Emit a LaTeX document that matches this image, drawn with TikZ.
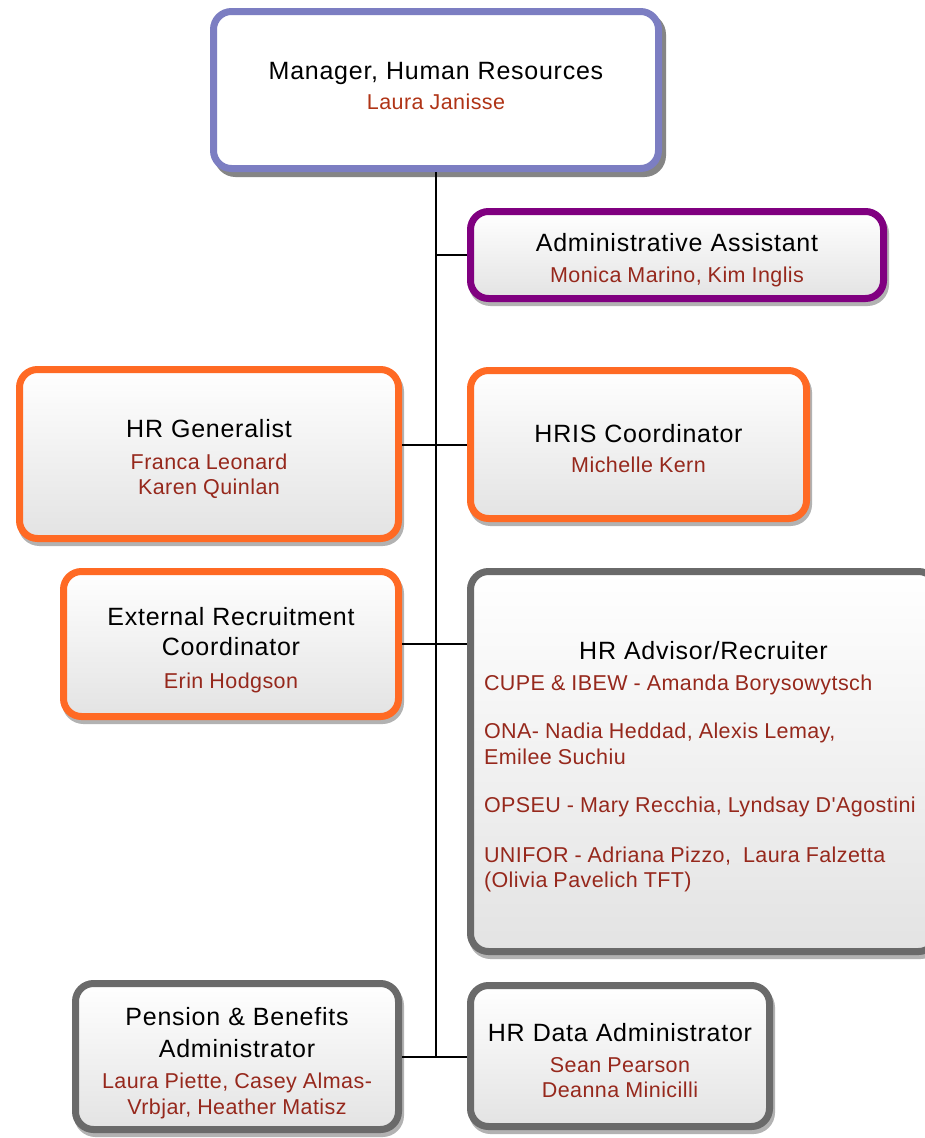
\documentclass[tikz,border=0pt]{standalone}
\usepackage{fontspec}
\setmainfont{Liberation Sans}
\newfontfamily\ttlfamily{Liberation Sans}[LetterSpace=3]
\newfontfamily\nmfamily{Liberation Sans}[LetterSpace=2]
\usetikzlibrary{shadows}
\definecolor{lav}{RGB}{124,126,194}
\definecolor{purp}{RGB}{128,0,128}
\definecolor{orng}{RGB}{255,106,36}
\definecolor{gry}{RGB}{106,106,106}
\definecolor{nred}{RGB}{150,40,28}
\definecolor{mred}{RGB}{176,52,22}
\newcommand\boxttl{\ttlfamily\fontsize{25}{31}\selectfont\spaceskip=8pt\relax\color{black}}
\newcommand\boxnm{\nmfamily\fontsize{21.5}{25.5}\selectfont\spaceskip=6pt\relax\color{nred}}
\newcommand\boxshift[1]{\par\vspace{#1}\kern0pt}
\begin{document}
\begin{tikzpicture}[x=1pt,y=-1pt,
  box/.style={rounded corners=18pt, line width=7pt, inner sep=0pt,
    top color=white, bottom color=black!11, align=center,
    drop shadow={shadow xshift=2pt, shadow yshift=-4pt, fill=black!30, draw=black!30, line width=7pt, opacity=1}},
  topbox/.style={rounded corners=18pt, line width=7pt, inner sep=0pt, fill=white, align=center,
    drop shadow={shadow xshift=4pt, shadow yshift=-5pt, fill=black!48, draw=black!48, line width=7pt, opacity=1}},
  conn/.style={line width=2pt, black}]
\fill[white] (0,0) rectangle (924,1138);
\useasboundingbox (0,0) rectangle (924,1138);

\node[topbox, draw=lav, minimum width=445pt, minimum height=157pt, text width=420pt] (mgr) at (436,90)
  {\boxttl Manager, Human Resources\par\vspace{5pt}\boxnm\color{mred}Laura Janisse\boxshift{8pt}};

\node[box, draw=purp, minimum width=413pt, minimum height=87pt, text width=395pt] (admin) at (677,255)
  {\boxttl Administrative Assistant\par\vspace{5pt}\boxnm Monica Marino, Kim Inglis\boxshift{-10pt}};

\node[box, draw=orng, minimum width=379pt, minimum height=169pt, text width=360pt] (gen) at (209,454)
  {\boxttl HR Generalist\par\vspace{6pt}\boxnm Franca Leonard\par Karen Quinlan\boxshift{-10pt}};

\node[box, draw=orng, minimum width=336pt, minimum height=148pt, text width=316pt] (hris) at (638.5,444.5)
  {\boxttl HRIS Coordinator\par\vspace{5pt}\boxnm Michelle Kern\boxshift{-8pt}};

\node[box, draw=orng, minimum width=335pt, minimum height=145pt, text width=316pt] (ext) at (231,644)
  {\boxttl External Recruitment\par\vspace{-1pt}Coordinator\par\vspace{7pt}\boxnm Erin Hodgson\boxshift{-12pt}};

\node[box, draw=gry, minimum width=466pt, minimum height=380pt, text width=439pt, align=left] (adv) at (703.5,761.5)
  {{\centering\boxttl HR Advisor/Recruiter\par}\vspace{6pt}\boxnm
   CUPE \& IBEW - Amanda Borysowytsch\par\vspace{22.5pt}
   ONA- Nadia Heddad, Alexis Lemay,\par Emilee Suchiu\par\vspace{22.5pt}
   OPSEU - Mary Recchia, Lyndsay D'Agostini\par\vspace{24.5pt}
   UNIFOR - Adriana Pizzo,\ \ Laura Falzetta\par (Olivia Pavelich TFT)\boxshift{-10pt}};

\node[box, draw=gry, minimum width=323pt, minimum height=146pt, text width=310pt] (pen) at (237,1056.5)
  {\boxttl Pension \& Benefits\par\vspace{1pt}Administrator\par\vspace{6pt}\boxnm Laura Piette, Casey Almas-\par Vrbjar, Heather Matisz\boxshift{-13pt}};

\node[box, draw=gry, minimum width=299pt, minimum height=141pt, text width=285pt] (data) at (620,1056)
  {\boxttl HR Data Administrator\par\vspace{5pt}\boxnm Sean Pearson\par Deanna Minicilli\boxshift{-10pt}};

\draw[conn] (mgr.south) -- (mgr.south |- pen.east);
\draw[conn] (admin.west) -- (admin.west -| mgr.south);
\draw[conn] (hris.west) -- (hris.west -| gen.east);
\draw[conn] (ext.east) -- (ext.east -| adv.west);
\draw[conn] (pen.east) -- (pen.east -| data.west);
\end{tikzpicture}
\end{document}
